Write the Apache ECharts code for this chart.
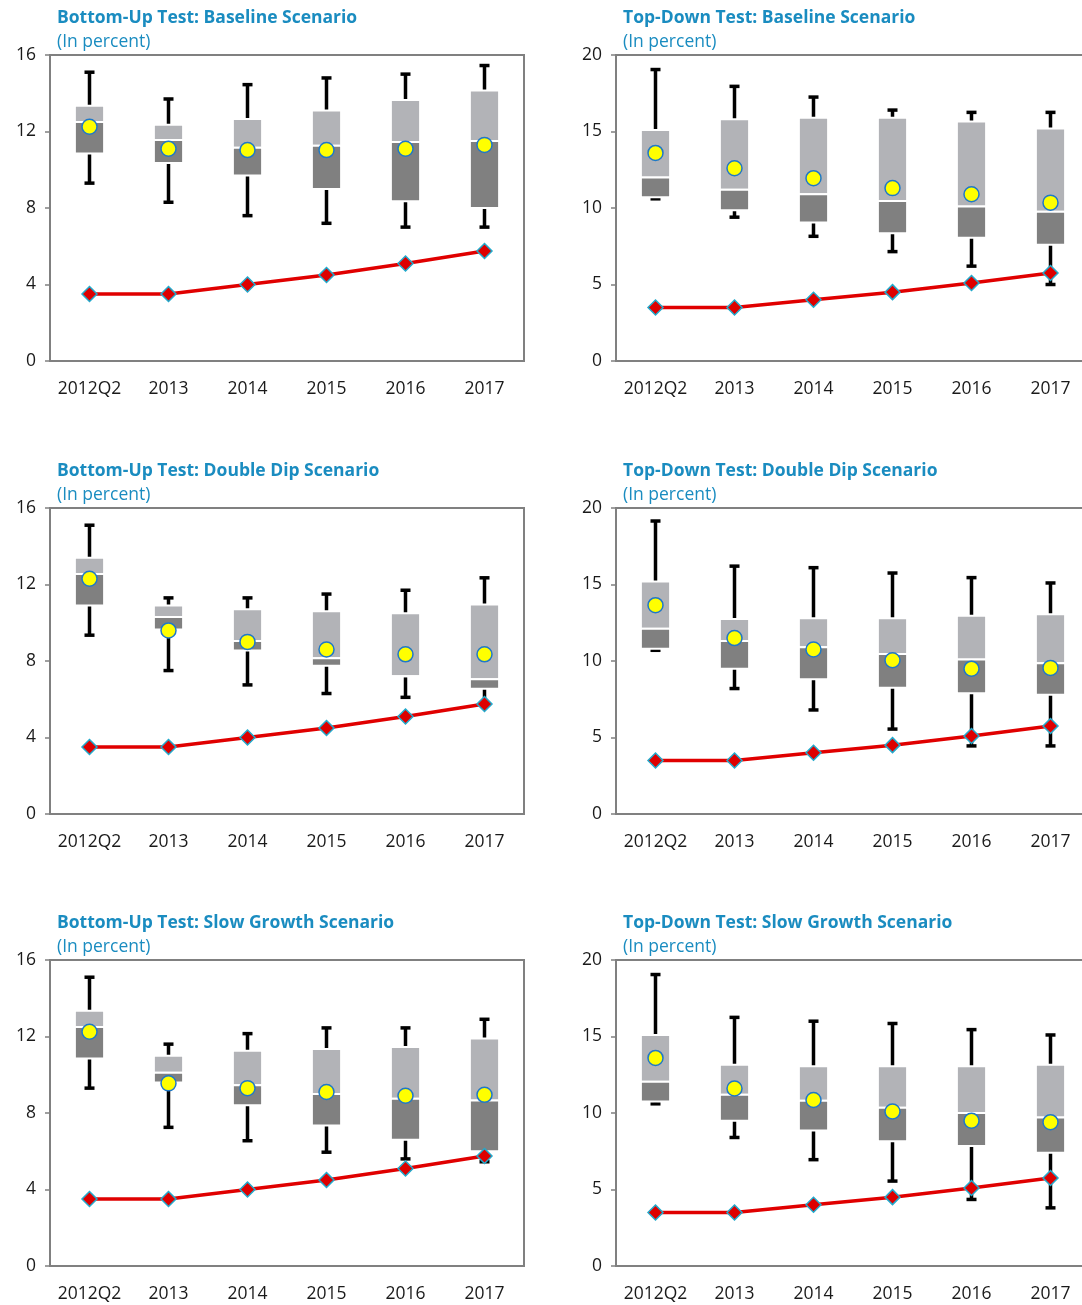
<!DOCTYPE html>
<html>
<head>
<meta charset="utf-8">
<script src="https://cdn.jsdelivr.net/npm/echarts@6/dist/echarts.min.js"></script>
<style>
  html, body { margin: 0; padding: 0; background: #fff; overflow: hidden; }
  #chart { width: 1092px; height: 1305px; }
</style>
</head>
<body>
<div id="chart"></div>
<script>
  // categories
  const years = ['2012Q2', '2013', '2014', '2015', '2016', '2017'];

  // red line (same in every panel)
  const hurdle = [3.5, 3.5, 4.0, 4.5, 5.1, 5.75];

  // box values: [low, q1, median, q3, high]
  const buBaseBox = [
    [9.3, 10.85, 12.5, 13.35, 15.1],
    [8.3, 10.35, 11.55, 12.35, 13.7],
    [7.6, 9.7, 11.15, 12.65, 14.45],
    [7.2, 9.0, 11.25, 13.1, 14.8],
    [7.0, 8.35, 11.45, 13.65, 15.0],
    [7.0, 8.0, 11.5, 14.15, 15.45]
  ];
  const buBaseMean = [12.25, 11.1, 11.03, 11.03, 11.1, 11.3];

  const tdBaseBox = [
    [10.6, 10.7, 12.0, 15.1, 19.05],
    [9.4, 9.85, 11.2, 15.8, 17.95],
    [8.15, 9.05, 10.9, 15.9, 17.25],
    [7.15, 8.35, 10.45, 15.9, 16.4],
    [6.2, 8.05, 10.1, 15.65, 16.25],
    [5.0, 7.6, 9.75, 15.2, 16.25]
  ];
  const tdBaseMean = [13.6, 12.6, 11.95, 11.3, 10.9, 10.35];

  const buDipBox = [
    [9.35, 10.9, 12.55, 13.4, 15.1],
    [7.5, 9.65, 10.3, 10.9, 11.3],
    [6.75, 8.55, 9.05, 10.7, 11.3],
    [6.3, 7.75, 8.15, 10.6, 11.5],
    [6.1, 7.2, 7.2, 10.5, 11.7],
    [5.8, 6.55, 7.05, 10.95, 12.35]
  ];
  const buDipMean = [12.3, 9.6, 9.0, 8.6, 8.35, 8.35];

  const tdDipBox = [
    [10.7, 10.8, 12.1, 15.2, 19.15],
    [8.2, 9.5, 11.3, 12.75, 16.2],
    [6.8, 8.8, 10.9, 12.8, 16.1],
    [5.55, 8.25, 10.45, 12.8, 15.75],
    [4.45, 7.9, 10.1, 12.95, 15.45],
    [4.45, 7.8, 9.85, 13.05, 15.1]
  ];
  const tdDipMean = [13.65, 11.5, 10.75, 10.05, 9.5, 9.55];

  const buSlowBox = [
    [9.3, 10.85, 12.5, 13.35, 15.1],
    [7.25, 9.6, 10.1, 11.0, 11.6],
    [6.55, 8.4, 9.45, 11.25, 12.15],
    [5.95, 7.35, 9.0, 11.35, 12.45],
    [5.6, 6.6, 8.75, 11.45, 12.45],
    [5.45, 6.0, 8.65, 11.9, 12.9]
  ];
  const buSlowMean = [12.25, 9.55, 9.3, 9.1, 8.9, 8.95];

  const tdSlowBox = [
    [10.6, 10.75, 12.05, 15.1, 19.05],
    [8.4, 9.5, 11.2, 13.15, 16.25],
    [6.95, 8.85, 10.8, 13.05, 16.0],
    [5.55, 8.15, 10.35, 13.05, 15.85],
    [4.35, 7.85, 10.0, 13.05, 15.45],
    [3.8, 7.4, 9.7, 13.15, 15.1]
  ];
  const tdSlowMean = [13.6, 11.6, 10.85, 10.1, 9.5, 9.4];

  const panels = [
    { title: 'Bottom-Up Test: Baseline Scenario', box: buBaseBox, mean: buBaseMean, max: 16, step: 4, left: 50, top: 55 },
    { title: 'Top-Down Test: Baseline Scenario', box: tdBaseBox, mean: tdBaseMean, max: 20, step: 5, left: 616, top: 55 },
    { title: 'Bottom-Up Test: Double Dip Scenario', box: buDipBox, mean: buDipMean, max: 16, step: 4, left: 50, top: 508 },
    { title: 'Top-Down Test: Double Dip Scenario', box: tdDipBox, mean: tdDipMean, max: 20, step: 5, left: 616, top: 508 },
    { title: 'Bottom-Up Test: Slow Growth Scenario', box: buSlowBox, mean: buSlowMean, max: 16, step: 4, left: 50, top: 960 },
    { title: 'Top-Down Test: Slow Growth Scenario', box: tdSlowBox, mean: tdSlowMean, max: 20, step: 5, left: 616, top: 960 }
  ];

  const FONT = 'Open Sans';
  const chart = echarts.init(document.getElementById('chart'));

  function renderBox(params, api) {
    const idx = api.value(0);
    const low = api.coord([idx, api.value(1)]);
    const q1 = api.coord([idx, api.value(2)]);
    const med = api.coord([idx, api.value(3)]);
    const q3 = api.coord([idx, api.value(4)]);
    const high = api.coord([idx, api.value(5)]);
    const band = api.size([1, 0])[0];
    const w = band * 0.37;
    const cap = 10;
    const x = q1[0];
    const black = { stroke: '#000', lineWidth: 3.5 };
    return {
      type: 'group',
      children: [
        { type: 'line', shape: { x1: x, y1: high[1], x2: x, y2: q3[1] }, style: black },
        { type: 'line', shape: { x1: x, y1: q1[1], x2: x, y2: low[1] }, style: black },
        { type: 'line', shape: { x1: x - cap / 2, y1: high[1], x2: x + cap / 2, y2: high[1] }, style: black },
        { type: 'line', shape: { x1: x - cap / 2, y1: low[1], x2: x + cap / 2, y2: low[1] }, style: black },
        { type: 'rect', shape: { x: x - w / 2, y: q3[1], width: w, height: med[1] - q3[1] },
          style: { fill: '#b2b3b7', stroke: '#ffffff', lineWidth: 2 } },
        { type: 'rect', shape: { x: x - w / 2, y: med[1], width: w, height: q1[1] - med[1] },
          style: { fill: '#808080', stroke: '#ffffff', lineWidth: 2 } }
      ]
    };
  }

  const option = {
    animation: false,
    backgroundColor: '#fff',
    title: [],
    grid: [],
    xAxis: [],
    yAxis: [],
    series: []
  };

  panels.forEach((p, i) => {
    option.title.push({
      text: p.title,
      subtext: '(In percent)',
      left: p.left + 7,
      top: p.top - 46,
      itemGap: 6,
      padding: 0,
      textStyle: { fontFamily: FONT, fontSize: 17.5, fontWeight: 'bold', color: '#1a8cc0' },
      subtextStyle: { fontFamily: FONT, fontSize: 17.5, color: '#1a8cc0' }
    });
    option.grid.push({
      left: p.left, top: p.top, width: 474, height: 306,
      show: true, borderColor: '#808080', borderWidth: 2, backgroundColor: 'transparent'
    });
    option.xAxis.push({
      type: 'category', gridIndex: i, data: years, boundaryGap: true,
      axisLine: { show: true, lineStyle: { color: '#808080', width: 2 } },
      axisTick: { show: false },
      axisLabel: { interval: 0, margin: 19, fontFamily: FONT, fontSize: 17.5, color: '#1a1a1a' },
      splitLine: { show: false }
    });
    option.yAxis.push({
      type: 'value', gridIndex: i, min: 0, max: p.max, interval: p.step,
      axisLine: { show: true, lineStyle: { color: '#808080', width: 2 } },
      axisTick: { show: true, length: 5, lineStyle: { color: '#808080', width: 1.5 } },
      axisLabel: { margin: 14, fontFamily: FONT, fontSize: 17.5, color: '#1a1a1a' },
      splitLine: { show: false }
    });
    option.series.push({
      type: 'custom', xAxisIndex: i, yAxisIndex: i,
      renderItem: renderBox,
      encode: { x: 0, y: [1, 2, 3, 4, 5] },
      data: p.box.map((b, k) => [k].concat(b)),
      z: 2
    });
    option.series.push({
      type: 'scatter', xAxisIndex: i, yAxisIndex: i,
      data: p.mean,
      symbol: 'circle', symbolSize: 15,
      itemStyle: { color: '#ffff00', borderColor: '#1e78c8', borderWidth: 1.5, opacity: 1 },
      z: 3
    });
    option.series.push({
      type: 'line', xAxisIndex: i, yAxisIndex: i,
      data: hurdle,
      symbol: 'diamond', symbolSize: 15, showAllSymbol: true,
      lineStyle: { color: '#e00000', width: 3.5 },
      itemStyle: { color: '#dd0000', borderColor: '#22aacc', borderWidth: 1.5 },
      z: 4
    });
  });

  chart.setOption(option);
</script>
</body>
</html>
